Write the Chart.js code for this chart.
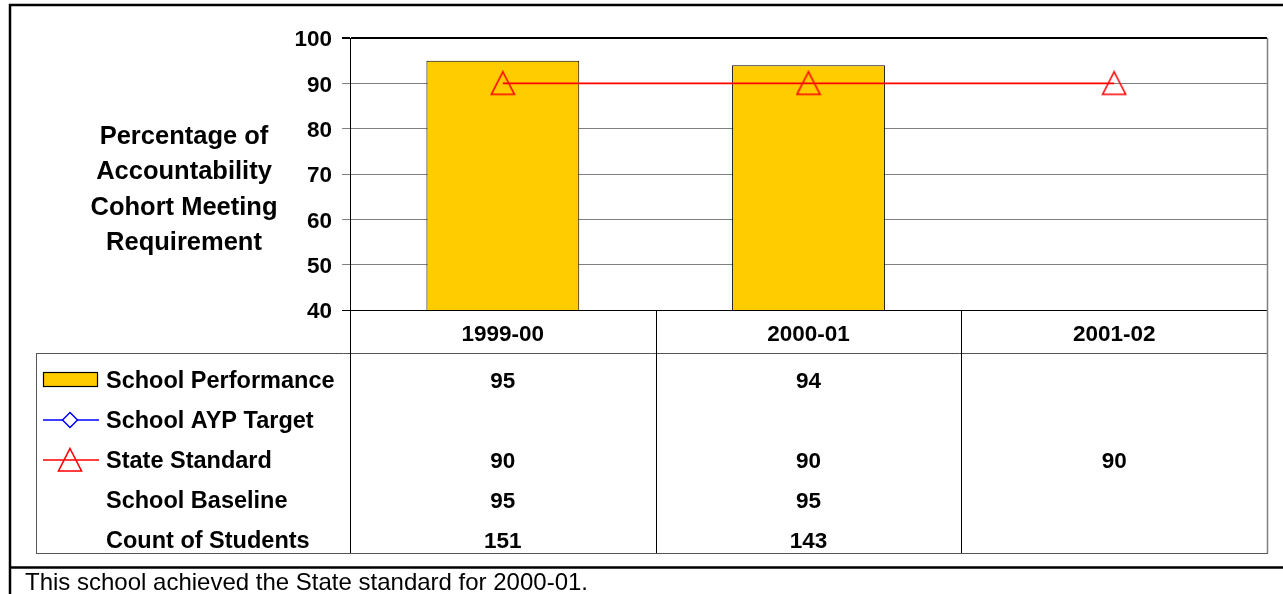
<!DOCTYPE html>
<html>
<head>
<meta charset="utf-8">
<script src="https://cdn.jsdelivr.net/npm/chart.js@4/dist/chart.umd.min.js"></script>
<style>
  html, body { margin: 0; padding: 0; background: #fff; }
  #wrap { width: 1283px; height: 594px; }
</style>
</head>
<body>
<div id="wrap"><canvas id="cohortChart" width="1283" height="594"></canvas></div>
<script>
// Chart data
var categories = ['1999-00', '2000-01', '2001-02'];
var schoolPerformance = [95, 94, null];
var schoolAypTarget = [null, null, null];
var stateStandard = [90, 90, 90];
var schoolBaseline = [95, 95, null];
var countOfStudents = [151, 143, null];
var yTicks = [40, 50, 60, 70, 80, 90, 100];

var titleLines = ['Percentage of', 'Accountability', 'Cohort Meeting', 'Requirement'];
var caption = 'This school achieved the State standard for 2000-01.';

var FONT = '"Liberation Sans", Arial, Helvetica, sans-serif';
var GOLD = '#FFCC00';

// hollow red triangle used as point style (and in the table legend)
var tri = document.createElement('canvas');
tri.width = 26;
tri.height = 26;
(function () {
  var c = tri.getContext('2d');
  c.strokeStyle = '#FF0000';
  c.lineWidth = 1.6;
  c.beginPath();
  c.moveTo(13, 1.5);
  c.lineTo(24.5, 24);
  c.lineTo(1.5, 24);
  c.closePath();
  c.stroke();
})();

function fmt(v) {
  return v === null || v === undefined ? '' : String(v);
}

// draws frame, left title, data table and caption
var tablePlugin = {
  id: 'tablePlugin',
  afterDraw: function (chart) {
    var ctx = chart.ctx;
    var area = chart.chartArea;
    var xs = chart.scales.x;
    var colW = (area.right - area.left) / categories.length;
    var headTop = area.bottom;
    var headBottom = 353;
    var tableBottom = 553;
    var tableLeft = 36;
    var rowY = [382, 422, 462, 502, 542];

    ctx.save();

    // outer frame
    ctx.strokeStyle = '#000';
    ctx.lineWidth = 2.5;
    ctx.beginPath();
    ctx.moveTo(1290, 5);
    ctx.lineTo(10, 5);
    ctx.lineTo(10, 600);
    ctx.moveTo(10, 567.5);
    ctx.lineTo(1290, 567.5);
    ctx.stroke();

    // plot right border
    ctx.lineWidth = 1.5;
    ctx.strokeStyle = '#808080';
    ctx.beginPath();
    ctx.moveTo(area.right + 0.5, area.top);
    ctx.lineTo(area.right + 0.5, tableBottom);
    ctx.stroke();

    // table grid
    ctx.lineWidth = 1;
    ctx.strokeStyle = '#555';
    ctx.beginPath();
    ctx.moveTo(tableLeft, headBottom + 0.5);
    ctx.lineTo(area.right, headBottom + 0.5);
    ctx.moveTo(tableLeft, tableBottom + 0.5);
    ctx.lineTo(area.right + 1, tableBottom + 0.5);
    ctx.moveTo(tableLeft + 0.5, headBottom);
    ctx.lineTo(tableLeft + 0.5, tableBottom);
    ctx.stroke();

    ctx.strokeStyle = '#000';
    ctx.beginPath();
    ctx.moveTo(area.left + 0.5, headTop);
    ctx.lineTo(area.left + 0.5, tableBottom);
    for (var i = 1; i < categories.length; i++) {
      var bx = Math.round(xs.getPixelForValue(i) - colW / 2) + 0.5;
      ctx.moveTo(bx, headTop);
      ctx.lineTo(bx, tableBottom);
    }
    ctx.stroke();

    // left title
    ctx.fillStyle = '#000';
    ctx.textAlign = 'center';
    ctx.textBaseline = 'middle';
    ctx.font = 'bold 25.5px ' + FONT;
    titleLines.forEach(function (t, k) {
      ctx.fillText(t, 184, 137 + k * 35.3);
    });

    // header labels
    ctx.font = 'bold 22.5px ' + FONT;
    categories.forEach(function (c, k) {
      ctx.fillText(c, xs.getPixelForValue(k), 335);
    });

    // rows
    var rows = [
      { label: 'School Performance', values: schoolPerformance },
      { label: 'School AYP Target', values: schoolAypTarget },
      { label: 'State Standard', values: stateStandard },
      { label: 'School Baseline', values: schoolBaseline },
      { label: 'Count of Students', values: countOfStudents }
    ];
    rows.forEach(function (r, k) {
      var y = rowY[k];
      ctx.textAlign = 'left';
      ctx.font = 'bold 23.5px ' + FONT;
      ctx.fillText(r.label, 106, y);
      ctx.textAlign = 'center';
      ctx.font = 'bold 22.5px ' + FONT;
      r.values.forEach(function (v, j) {
        ctx.fillText(fmt(v), xs.getPixelForValue(j), y);
      });
    });

    // legend keys
    ctx.fillStyle = GOLD;
    ctx.fillRect(43, 372, 54, 14);
    ctx.strokeStyle = '#000';
    ctx.lineWidth = 1.2;
    ctx.strokeRect(43.5, 372.5, 54, 14);

    ctx.strokeStyle = '#0000FF';
    ctx.lineWidth = 1.5;
    ctx.beginPath();
    ctx.moveTo(43, 420);
    ctx.lineTo(99, 420);
    ctx.stroke();
    ctx.fillStyle = '#fff';
    ctx.beginPath();
    ctx.moveTo(70, 412.5);
    ctx.lineTo(77.5, 420);
    ctx.lineTo(70, 427.5);
    ctx.lineTo(62.5, 420);
    ctx.closePath();
    ctx.fill();
    ctx.stroke();

    ctx.strokeStyle = '#FF0000';
    ctx.beginPath();
    ctx.moveTo(43, 460);
    ctx.lineTo(99, 460);
    ctx.stroke();
    ctx.drawImage(tri, 70 - 13, 460 - 13);

    // caption
    ctx.fillStyle = '#000';
    ctx.textAlign = 'left';
    ctx.textBaseline = 'alphabetic';
    ctx.font = '24px ' + FONT;
    ctx.fillText(caption, 25, 590);

    ctx.restore();
  }
};

var chart = new Chart(document.getElementById('cohortChart').getContext('2d'), {
  type: 'bar',
  data: {
    labels: categories,
    datasets: [
      {
        type: 'line',
        label: 'State Standard',
        data: stateStandard,
        borderColor: '#FF0000',
        borderWidth: 1.6,
        pointStyle: tri,
        pointRadius: 12,
        fill: false,
        order: 0
      },
      {
        type: 'line',
        label: 'School AYP Target',
        data: schoolAypTarget,
        borderColor: '#0000FF',
        borderWidth: 1.5,
        pointStyle: 'rectRot',
        pointRadius: 7,
        pointBackgroundColor: '#fff',
        fill: false,
        order: 1
      },
      {
        label: 'School Performance',
        data: schoolPerformance,
        backgroundColor: GOLD,
        borderColor: '#000',
        borderWidth: 1,
        barPercentage: 0.5,
        categoryPercentage: 1,
        order: 2
      }
    ]
  },
  options: {
    responsive: false,
    animation: false,
    layout: { padding: { top: 38, right: 16, bottom: 284, left: 0 } },
    plugins: {
      legend: { display: false },
      tooltip: { enabled: false }
    },
    scales: {
      x: { display: false },
      y: {
        min: 40,
        max: 100,
        afterFit: function (s) { s.width = 350; },
        afterBuildTicks: function (s) {
          s.ticks = yTicks.map(function (v) { return { value: v }; });
        },
        ticks: {
          color: '#000',
          padding: 10,
          labelOffset: 2,
          font: { family: FONT, size: 22.5, weight: 'bold' }
        },
        grid: {
          tickLength: 8,
          color: function (c) {
            return (c.tick && (c.tick.value === 100 || c.tick.value === 40)) ? '#000' : '#808080';
          },
          lineWidth: function (c) {
            return c.tick && c.tick.value === 100 ? 2 : 1;
          }
        },
        border: { color: '#000', width: 1 }
      }
    }
  },
  plugins: [tablePlugin]
});
</script>
</body>
</html>
